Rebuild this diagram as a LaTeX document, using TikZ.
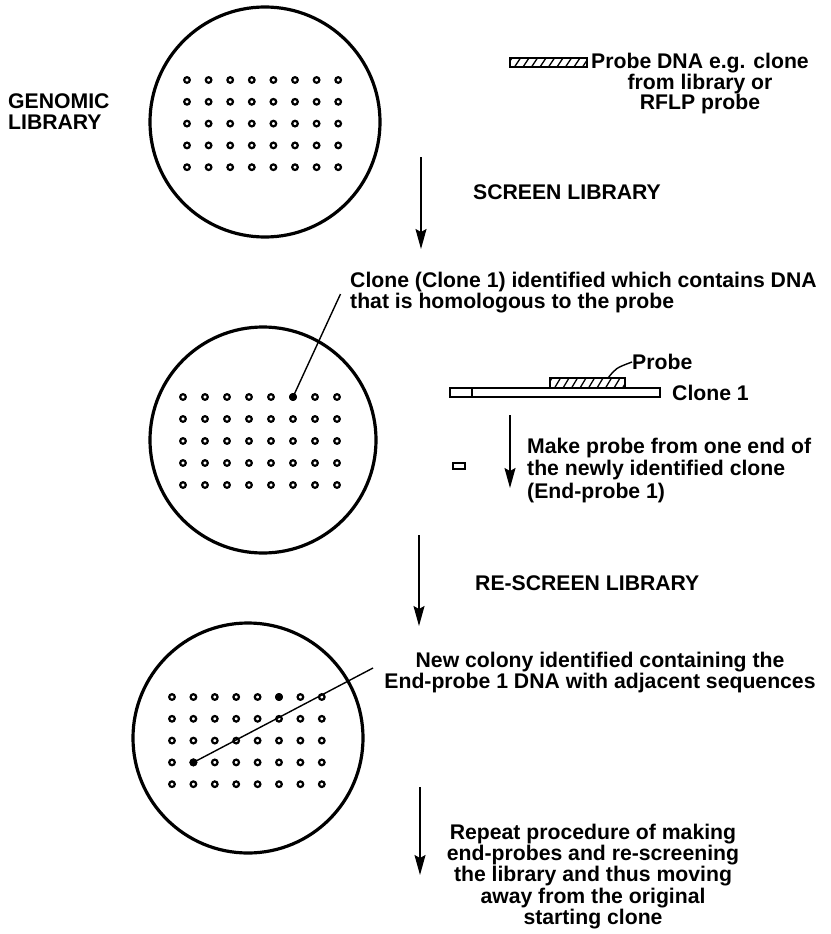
\documentclass[tikz,border=0pt]{standalone}
\usepackage{fontspec}
\setmainfont{Liberation Sans}
\usetikzlibrary{arrows.meta, positioning}
\tikzset{
  plate/.style={line width=3.2pt},
  colony/.style={circle, draw, line width=2.2pt, inner sep=0pt, minimum size=5.6pt},
  hit/.style={colony, fill=black},
  flow/.style={line width=1.5pt, -{Stealth[length=20pt, width=11pt, inset=3pt]}},
  lead/.style={line width=1.4pt},
  lbl/.style={inner sep=0pt, font=\fontsize{21.2}{21.2}\selectfont\bfseries},
  bar/.style={draw, line width=1.4pt}
}
\newcommand{\probebar}[4]{%
  \begin{scope}
    \clip (#1,#2) rectangle (#3,#4);
    \foreach \hx in {-4,4.5,...,90} \draw[line width=1.3pt] ({#1+\hx},#4) -- ({#1+\hx+6},#2);
  \end{scope}
  \draw[bar] (#1,#2) rectangle (#3,#4);
}

\begin{document}
\begin{tikzpicture}[x=1pt, y=-1pt]
  \useasboundingbox (0,0) rectangle (830,934);
  % Plates
  \draw[plate] (265,122) circle (115pt);
  \draw[plate] (263,440) circle (113pt);
  \draw[plate] (248,738) circle (115pt);
  % Colonies
  \foreach \i in {0,...,7} \foreach \j in {0,...,4} {
    \node[colony] (pa-\i-\j) at ({187+21.6*\i},{80+21.8*\j}) {};
    \node[colony] (pb-\i-\j) at ({183+22*\i},{397+22*\j}) {};
    \node[colony] (pc-\i-\j) at ({172+21.4*\i},{697+21.8*\j}) {};
  }
  \node[hit] at (pb-5-0) {};
  \node[hit] at (pc-5-0) {};
  \node[hit] at (pc-1-3) {};
  % Labels
  \node[lbl, anchor=west, align=left] (genomic) at (8,111.5) {GENOMIC\\LIBRARY};
  \node[lbl, align=center, font=\fontsize{21.2}{20.5}\selectfont\bfseries] (probedna) at (700,84) {Probe DNA e.g. clone\\from library or\\RFLP probe};
  \node[lbl, anchor=west] (screen) at (473,192) {SCREEN LIBRARY};
  \node[lbl, anchor=west, align=left] (found) at (350,292.5) {Clone (Clone 1) identified which contains DNA\\that is homologous to the probe};
  \node[lbl, anchor=west] (probelbl) at (632,362) {Probe};
  \node[lbl, anchor=west] (clonelbl) at (672,393) {Clone 1};
  \node[lbl, anchor=west, align=left, font=\fontsize{21.2}{22.5}\selectfont\bfseries] (endprobe) at (527,470.5) {Make probe from one end of\\the newly identified clone\\(End-probe 1)};
  \node[lbl, anchor=west] (rescreen) at (475,583) {RE-SCREEN LIBRARY};
  \node[lbl, align=center] (newcol) at (600,672.5) {New colony identified containing the\\End-probe 1 DNA with adjacent sequences};
  \node[lbl, align=center] (repeat) at (593,876.5) {Repeat procedure of making\\end-probes and re-screening\\the library and thus moving\\away from the original\\starting clone};
  % Probe and clone bars
  \probebar{510}{58}{587}{67}
  \draw[bar] (450,388) rectangle (660,397);
  \draw[line width=1.4pt] (472,388) -- (472,397);
  \probebar{550}{378}{625}{388}
  \draw[bar] (453,463) rectangle (465,469);
  % Pointers
  \coordinate (ptr-b) at (340.5,294);
  \coordinate (ptr-c) at (373,668);
  \coordinate (pr-top) at (608,378);
  \draw[lead] (pb-5-0.center) -- (ptr-b);
  \draw[lead] (pc-1-3.center) -- (ptr-c);
  \draw[lead] (pr-top) .. controls (616,368) .. (probelbl.west);
  % Flow arrows
  \coordinate (a1s) at (421,157); \coordinate (a1e) at (421,249);
  \coordinate (a2s) at (419,535); \coordinate (a2e) at (419,626);
  \coordinate (a3s) at (420,787); \coordinate (a3e) at (420,875);
  \coordinate (a4s) at (510,415); \coordinate (a4e) at (510,488);
  \draw[flow] (a1s) -- (a1e);
  \draw[flow] (a2s) -- (a2e);
  \draw[flow] (a3s) -- (a3e);
  \draw[flow] (a4s) -- (a4e);
\end{tikzpicture}
\end{document}
